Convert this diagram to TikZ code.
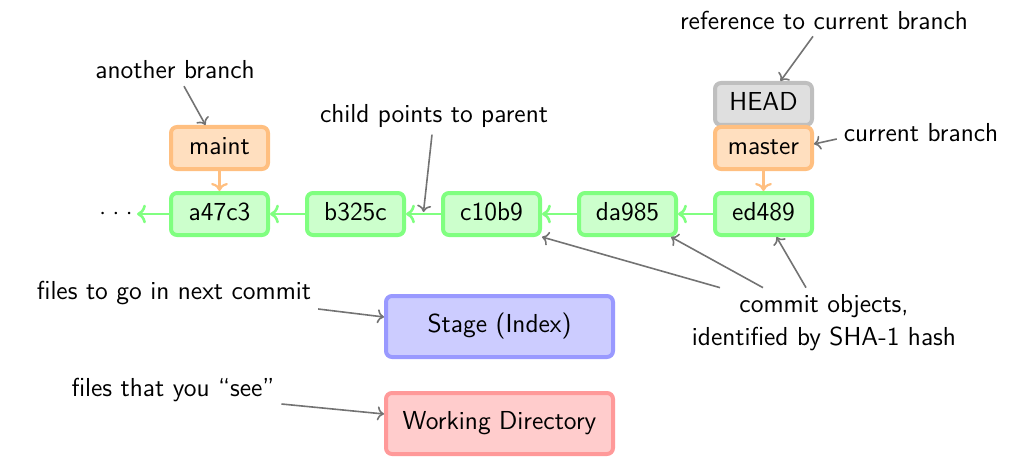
\documentclass[tikz,border=0pt]{standalone}
\usetikzlibrary{arrows.meta,positioning,backgrounds}

\tikzset{
  commit/.style={draw=green!50,fill=green!20,line width=2pt,rounded corners=3pt,
    minimum width=48.5pt,minimum height=21pt,text height=1.75ex,text depth=.25ex},
  branchbox/.style={commit,draw=orange!50,fill=orange!25},
  headbox/.style={commit,draw=gray!50,fill=gray!25},
  filebox/.style={draw=#1!40,fill=#1!20,line width=2pt,rounded corners=3pt,
    minimum width=113.5pt,minimum height=30.5pt},
  parentarrow/.style={->,green!50,line width=1.3pt},
  brancharrow/.style={->,orange!50,line width=1.1pt},
  annot/.style={->,black!55,line width=0.8pt},
}

\begin{document}
\begin{tikzpicture}[x=0.5pt,y=-0.5pt,node distance=17.5pt,>={To},
  font=\sffamily\fontsize{13}{15.6}\selectfont]
\useasboundingbox (0,0) rectangle (1012,465);

% commits
\node[commit] (a47c3) at (219.5,214) {a47c3};
\node[commit,right=of a47c3] (b325c) {b325c};
\node[commit,right=of b325c] (c10b9) {c10b9};
\node[commit,right=of c10b9] (da985) {da985};
\node[commit,right=of da985] (ed489) {ed489};
\node[left=16pt of a47c3,inner sep=2pt] (older) {$\cdotp\mkern2mu\cdotp\mkern2mu\cdotp$};

\draw[parentarrow] (a47c3)--(older);
\draw[parentarrow] (c10b9)--coordinate[pos=.5] (parentpt) (b325c);
\draw[parentarrow] (b325c)--(a47c3);
\draw[parentarrow] (da985)--(c10b9);
\draw[parentarrow] (ed489)--(da985);

% branches
\node[branchbox,above=10pt of a47c3] (maint) {maint};
\node[branchbox,above=10pt of ed489] (master) {master};
\begin{scope}[on background layer]
\node[headbox,above=-1pt of master] (head) {HEAD};
\end{scope}
\draw[brancharrow] (maint)--(a47c3);
\draw[brancharrow] (master)--(ed489);

% index and working tree
\node[filebox=blue] (stage) at (499.5,326.5) {Stage (Index)};
\node[filebox=red] (workdir) at (499.5,423.5) {Working Directory};

% notes
\node (anotherlbl) at (175,70) {another branch};
\node (childlbl) at (434,116) {child points to parent};
\node (reflbl) at (824,20) {reference to current branch};
\node (curlbl) at (921,133) {current branch};
\node[align=center] (commitlbl) at (824,323) {commit objects,\\[1pt]identified by SHA-1 hash};
\node (nextlbl) at (174,293) {files to go in next commit};
\node (seelbl) at (173,390) {files that you “see”};

\draw[annot] ([xshift=4.5pt]anotherlbl.south)--([xshift=-7pt]maint.north);
\draw[annot] ([xshift=-1pt]childlbl.south)--([yshift=1pt]parentpt);
\draw[annot] ([xshift=-5.5pt]reflbl.south)--([xshift=8.5pt]head.north);
\draw[annot] ([yshift=-3pt]curlbl.west)--([yshift=2pt]master.east);
\draw[annot] ([xshift=-52pt]commitlbl.north)--(c10b9.south east);
\draw[annot] ([xshift=-30.5pt]commitlbl.north)--([xshift=-3.5pt]da985.south east);
\draw[annot] ([xshift=-9pt]commitlbl.north)--([xshift=6.5pt]ed489.south);
\draw[annot] ([yshift=-8pt]nextlbl.east)--([yshift=4.75pt]stage.west);
\draw[annot] ([yshift=-7pt]seelbl.east)--([yshift=4.75pt]workdir.west);
\end{tikzpicture}
\end{document}
